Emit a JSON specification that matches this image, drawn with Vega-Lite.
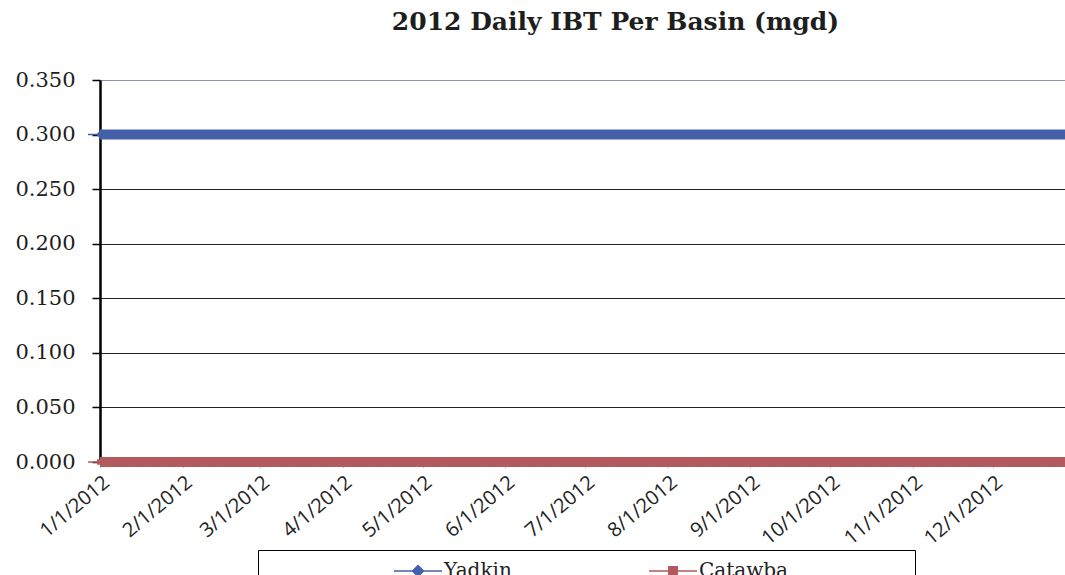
{
  "$schema": "https://vega.github.io/schema/vega-lite/v6.json",
  "autosize": {"type": "none"},
  "padding": {"left": 100, "top": 80, "right": 0, "bottom": 113},
  "width": 965,
  "height": 382,
  "background": "white",
  "title": {"text": "2012 Daily IBT Per Basin (mgd)", "font": "DejaVu Serif", "fontSize": 25, "fontWeight": "bold", "color": "#1e1e1e", "anchor": "middle", "dx": 33, "offset": 34},
  "data": {"values": [
    {"date": "2012-01-01", "Yadkin": 0.3, "Catawba": 0},
    {"date": "2012-01-08", "Yadkin": 0.3, "Catawba": 0},
    {"date": "2012-01-15", "Yadkin": 0.3, "Catawba": 0},
    {"date": "2012-01-22", "Yadkin": 0.3, "Catawba": 0},
    {"date": "2012-01-29", "Yadkin": 0.3, "Catawba": 0},
    {"date": "2012-02-05", "Yadkin": 0.3, "Catawba": 0},
    {"date": "2012-02-12", "Yadkin": 0.3, "Catawba": 0},
    {"date": "2012-02-19", "Yadkin": 0.3, "Catawba": 0},
    {"date": "2012-02-26", "Yadkin": 0.3, "Catawba": 0},
    {"date": "2012-03-04", "Yadkin": 0.3, "Catawba": 0},
    {"date": "2012-03-11", "Yadkin": 0.3, "Catawba": 0},
    {"date": "2012-03-18", "Yadkin": 0.3, "Catawba": 0},
    {"date": "2012-03-25", "Yadkin": 0.3, "Catawba": 0},
    {"date": "2012-04-01", "Yadkin": 0.3, "Catawba": 0},
    {"date": "2012-04-08", "Yadkin": 0.3, "Catawba": 0},
    {"date": "2012-04-15", "Yadkin": 0.3, "Catawba": 0},
    {"date": "2012-04-22", "Yadkin": 0.3, "Catawba": 0},
    {"date": "2012-04-29", "Yadkin": 0.3, "Catawba": 0},
    {"date": "2012-05-06", "Yadkin": 0.3, "Catawba": 0},
    {"date": "2012-05-13", "Yadkin": 0.3, "Catawba": 0},
    {"date": "2012-05-20", "Yadkin": 0.3, "Catawba": 0},
    {"date": "2012-05-27", "Yadkin": 0.3, "Catawba": 0},
    {"date": "2012-06-03", "Yadkin": 0.3, "Catawba": 0},
    {"date": "2012-06-10", "Yadkin": 0.3, "Catawba": 0},
    {"date": "2012-06-17", "Yadkin": 0.3, "Catawba": 0},
    {"date": "2012-06-24", "Yadkin": 0.3, "Catawba": 0},
    {"date": "2012-07-01", "Yadkin": 0.3, "Catawba": 0},
    {"date": "2012-07-08", "Yadkin": 0.3, "Catawba": 0},
    {"date": "2012-07-15", "Yadkin": 0.3, "Catawba": 0},
    {"date": "2012-07-22", "Yadkin": 0.3, "Catawba": 0},
    {"date": "2012-07-29", "Yadkin": 0.3, "Catawba": 0},
    {"date": "2012-08-05", "Yadkin": 0.3, "Catawba": 0},
    {"date": "2012-08-12", "Yadkin": 0.3, "Catawba": 0},
    {"date": "2012-08-19", "Yadkin": 0.3, "Catawba": 0},
    {"date": "2012-08-26", "Yadkin": 0.3, "Catawba": 0},
    {"date": "2012-09-02", "Yadkin": 0.3, "Catawba": 0},
    {"date": "2012-09-09", "Yadkin": 0.3, "Catawba": 0},
    {"date": "2012-09-16", "Yadkin": 0.3, "Catawba": 0},
    {"date": "2012-09-23", "Yadkin": 0.3, "Catawba": 0},
    {"date": "2012-09-30", "Yadkin": 0.3, "Catawba": 0},
    {"date": "2012-10-07", "Yadkin": 0.3, "Catawba": 0},
    {"date": "2012-10-14", "Yadkin": 0.3, "Catawba": 0},
    {"date": "2012-10-21", "Yadkin": 0.3, "Catawba": 0},
    {"date": "2012-10-28", "Yadkin": 0.3, "Catawba": 0},
    {"date": "2012-11-04", "Yadkin": 0.3, "Catawba": 0},
    {"date": "2012-11-11", "Yadkin": 0.3, "Catawba": 0},
    {"date": "2012-11-18", "Yadkin": 0.3, "Catawba": 0},
    {"date": "2012-11-25", "Yadkin": 0.3, "Catawba": 0},
    {"date": "2012-12-02", "Yadkin": 0.3, "Catawba": 0},
    {"date": "2012-12-09", "Yadkin": 0.3, "Catawba": 0},
    {"date": "2012-12-16", "Yadkin": 0.3, "Catawba": 0},
    {"date": "2012-12-23", "Yadkin": 0.3, "Catawba": 0},
    {"date": "2012-12-30", "Yadkin": 0.3, "Catawba": 0},
    {"date": "2012-12-31", "Yadkin": 0.3, "Catawba": 0}
  ]},
  "transform": [{"fold": ["Yadkin", "Catawba"], "as": ["series", "value"]}],
  "encoding": {
    "x": {
      "field": "date", "type": "temporal",
      "scale": {"type": "utc", "domain": [{"year": 2012, "month": 1, "date": 1, "utc": true}, {"year": 2012, "month": 12, "date": 28, "utc": true}]},
      "axis": {
        "title": null, "grid": false,
        "values": [
          {"year": 2012, "month": 1, "date": 1, "utc": true},
          {"year": 2012, "month": 2, "date": 1, "utc": true},
          {"year": 2012, "month": 3, "date": 1, "utc": true},
          {"year": 2012, "month": 4, "date": 1, "utc": true},
          {"year": 2012, "month": 5, "date": 1, "utc": true},
          {"year": 2012, "month": 6, "date": 1, "utc": true},
          {"year": 2012, "month": 7, "date": 1, "utc": true},
          {"year": 2012, "month": 8, "date": 1, "utc": true},
          {"year": 2012, "month": 9, "date": 1, "utc": true},
          {"year": 2012, "month": 10, "date": 1, "utc": true},
          {"year": 2012, "month": 11, "date": 1, "utc": true},
          {"year": 2012, "month": 12, "date": 1, "utc": true}
        ],
        "labelExpr": "utcFormat(datum.value, '%-m/%-d/%Y')",
        "labelAngle": -40, "labelAlign": "right", "labelBaseline": "top",
        "labelFont": "Open Sans", "labelFontSize": 20, "labelColor": "#222222",
        "labelPadding": 5, "labelOverlap": false, "labelFlush": false,
        "tickSize": 5, "tickColor": "#777777", "domainColor": "black", "domainWidth": 1
      }
    },
    "y": {
      "field": "value", "type": "quantitative",
      "scale": {"domain": [0, 0.35], "nice": false, "zero": true},
      "axis": {
        "title": null,
        "values": [0, 0.05, 0.1, 0.15, 0.2, 0.25, 0.3, 0.35],
        "format": ".3f",
        "labelFont": "DejaVu Serif", "labelFontSize": 21, "labelColor": "#1e1e1e",
        "labelPadding": 17, "tickSize": 8, "tickColor": "black", "tickWidth": 1.5,
        "domainColor": "black", "domainWidth": 2.5,
        "grid": true, "gridWidth": 1,
        "gridColor": {"condition": {"test": "datum.value >= 0.349", "value": "#8b93b5"}, "value": "#222222"}
      }
    }
  },
  "layer": [
    {
      "mark": {"type": "line", "strokeWidth": 10},
      "encoding": {
        "stroke": {"field": "series", "type": "nominal",
          "scale": {"domain": ["Yadkin", "Catawba"], "range": ["#4560aa", "#b35a5e"]},
          "legend": {"title": " ", "titleOrient": "right", "titlePadding": 117}}
      }
    },
    {
      "mark": {"type": "point", "filled": true, "size": 100, "strokeWidth": 1.5, "opacity": 1},
      "encoding": {
        "fill": {"field": "series", "type": "nominal",
          "scale": {"domain": ["Yadkin", "Catawba"], "range": ["#4560aa", "#b35a5e"]},
          "legend": {"title": " ", "titleOrient": "right", "titlePadding": 117}},
        "stroke": {"field": "series", "type": "nominal",
          "legend": {"title": " ", "titleOrient": "right", "titlePadding": 117}},
        "shape": {"field": "series", "type": "nominal",
          "scale": {"domain": ["Yadkin", "Catawba"], "range": ["M-2.4,0H2.4M0,-0.55L0.55,0L0,0.55L-0.55,0Z", "M-2.4,0H2.4M-0.42,-0.42H0.42V0.42H-0.42Z"]},
          "legend": {"title": " ", "titleOrient": "right", "titlePadding": 117}}
      }
    }
  ],
  "config": {
    "view": {"stroke": null},
    "legend": {
      "orient": "none", "legendX": 158, "legendY": 470, "direction": "horizontal",
      "strokeColor": "black", "padding": 10,
      "symbolSize": 400, "symbolOffset": 139, "labelOffset": 15, "columnPadding": 11,
      "symbolStrokeWidth": 1.5,
      "labelFont": "DejaVu Serif", "labelFontSize": 20, "labelColor": "#222222",
      "titleFont": "DejaVu Serif", "titleFontSize": 12
    }
  }
}
